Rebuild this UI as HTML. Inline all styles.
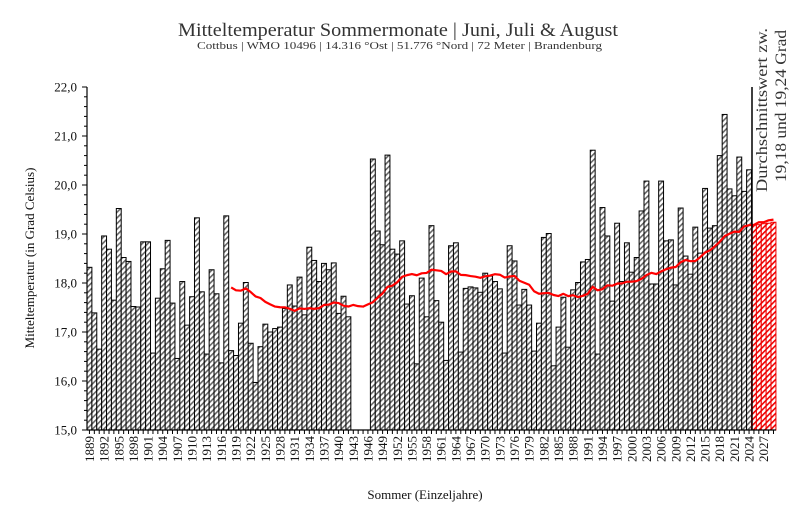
<!DOCTYPE html>
<html><head><meta charset="utf-8">
<style>
html,body{margin:0;padding:0;background:#fff;}
svg{display:block;font-family:"Liberation Serif",serif;}
</style></head>
<body>
<svg id="c" width="800" height="529" viewBox="0 0 800 529" xmlns="http://www.w3.org/2000/svg">
<defs>
<pattern id="h" patternUnits="userSpaceOnUse" width="4" height="4" patternTransform="rotate(45)">
<rect width="4" height="4" fill="#fff"/><rect x="0" y="0" width="1.6" height="4" fill="#666"/>
</pattern>
<pattern id="hr" patternUnits="userSpaceOnUse" width="4" height="4" patternTransform="rotate(45)">
<rect width="4" height="4" fill="#fff"/><rect x="0" y="0" width="1.6" height="4" fill="#e00"/>
</pattern>
</defs>
<text x="178" y="36" font-size="19" textLength="440" lengthAdjust="spacingAndGlyphs" fill="#333">Mitteltemperatur Sommermonate | Juni, Juli &amp; August</text>
<text x="197" y="49" font-size="11" textLength="405" lengthAdjust="spacingAndGlyphs" fill="#333">Cottbus | WMO 10496 | 14.316 °Ost | 51.776 °Nord | 72 Meter | Brandenburg</text>
<text transform="translate(34,258) rotate(-90)" font-size="13" text-anchor="middle" fill="#111">Mitteltemperatur (in Grad Celsius)</text>
<text x="425" y="499" font-size="13" text-anchor="middle" fill="#111">Sommer (Einzeljahre)</text>
<text transform="translate(767,192) rotate(-90)" font-size="16" textLength="164" lengthAdjust="spacingAndGlyphs" fill="#333">Durchschnittswert zw.</text>
<text transform="translate(786,182) rotate(-90)" font-size="16" textLength="152" lengthAdjust="spacingAndGlyphs" fill="#333">19,18 und 19,24 Grad</text>
<g id="g"></g>
</svg>
<script>
var d={1889:18.32,1890:17.39,1891:16.65,1892:18.96,1893:18.69,1894:17.65,1895:19.52,1896:18.52,1897:18.44,1898:17.52,1899:17.51,1900:18.84,1901:18.84,1902:16.57,1903:17.69,1904:18.29,1905:18.87,1906:17.59,1907:16.46,1908:18.03,1909:17.14,1910:17.72,1911:19.33,1912:17.82,1913:16.55,1914:18.27,1915:17.78,1916:16.37,1917:19.37,1918:16.62,1919:16.52,1920:17.18,1921:18.01,1922:16.77,1923:15.97,1924:16.70,1925:17.16,1926:17.0,1927:17.07,1928:17.10,1929:17.48,1930:17.96,1931:17.53,1932:18.12,1933:17.35,1934:18.73,1935:18.46,1936:18.03,1937:18.40,1938:18.27,1939:18.41,1940:17.38,1941:17.73,1942:17.31,
1947:20.53,1948:19.06,1949:18.78,1950:20.61,1951:18.69,1952:18.59,1953:18.86,1954:17.57,1955:17.74,1956:16.35,1957:18.10,1958:17.31,1959:19.17,1960:17.64,1961:17.20,1962:16.42,1963:18.76,1964:18.82,1965:16.59,1966:17.89,1967:17.92,1968:17.90,1969:17.81,1970:18.20,1971:18.14,1972:18.03,1973:17.88,1974:16.57,1975:18.76,1976:18.45,1977:17.55,1978:17.87,1979:17.55,1980:16.61,1981:17.18,1982:18.93,1983:19.01,1984:16.31,1985:17.10,1986:17.71,1987:16.69,1988:17.86,1989:18.01,1990:18.43,1991:18.48,1992:20.71,1993:16.55,1994:19.54,1995:18.96,1996:17.63,1997:19.22,
1998:18.03,1999:18.82,2000:18.22,2001:18.52,2002:19.47,2003:20.08,2004:17.98,2005:17.98,2006:20.08,2007:18.86,2008:18.88,2009:17.96,2010:19.53,2011:18.55,2012:18.18,2013:19.14,2014:18.61,2015:19.93,2016:19.12,2017:19.17,2018:20.60,2019:21.44,2020:19.92,2021:19.78,2022:20.57,2023:19.87,2024:20.31,
2025:19.18,2026:19.19,2027:19.21,2028:19.22,2029:19.24};
var X0=87,W=4.886,Y=function(t){return 87+(22-t)*49;};
var s='';
for(var yr=1889;yr<=2029;yr++){if(d[yr]===undefined)continue;var x=X0+(yr-1889)*W,y=Y(d[yr]);var red=yr>=2025;
s+='<rect x="'+x.toFixed(2)+'" y="'+y.toFixed(2)+'" width="'+W.toFixed(3)+'" height="'+(430-y).toFixed(2)+'" fill="url(#'+(red?'hr':'h')+')" stroke="'+(red?'#e00':'#000')+'" stroke-width="1"/>';}
var pts=[];
var ma={};
for(var yr=1918;yr<=2029;yr++){var sum=0,n=0;for(var k=yr-29;k<=yr;k++){if(d[k]!==undefined){sum+=d[k];n++;}}ma[yr]=sum/n;}
for(var yr=1918;yr<=2029;yr++){pts.push((X0+(yr-1889+0.5)*W).toFixed(2)+','+Y(ma[yr]).toFixed(2));}
s+='<polyline points="'+pts.join(' ')+'" fill="none" stroke="#f00" stroke-width="2.2" stroke-linejoin="round"/>';
s+='<line x1="'+X0+'" y1="87" x2="'+X0+'" y2="430.5" stroke="#000" stroke-width="1.2"/>';
s+='<line x1="'+X0+'" y1="430" x2="776" y2="430" stroke="#000" stroke-width="1.2"/>';
for(var i=0;i<=35;i++){var yy=87+i*9.8;var L=(i%5==0)?5:3;s+='<line x1="'+(X0-L)+'" y1="'+yy.toFixed(1)+'" x2="'+X0+'" y2="'+yy.toFixed(1)+'" stroke="#000" stroke-width="1"/>';}
for(var t=15;t<=22;t++){s+='<text x="77" y="'+(Y(t)+4.5).toFixed(1)+'" font-size="13" text-anchor="end" fill="#111">'+t+',0</text>';}
for(var yr=1889;yr<=2029;yr++){var cx=X0+(yr-1889+0.5)*W;s+='<line x1="'+cx.toFixed(2)+'" y1="430" x2="'+cx.toFixed(2)+'" y2="434" stroke="#000" stroke-width="1"/>';
if((yr-1889)%3==0){s+='<text transform="translate('+(cx+4.5).toFixed(2)+',436) rotate(-90)" font-size="13" text-anchor="end" fill="#111">'+yr+'</text>';}}
s+='<line x1="752" y1="87" x2="752" y2="430" stroke="#000" stroke-width="1.5"/>';
document.getElementById('g').innerHTML=s;
</script>
</body></html>
